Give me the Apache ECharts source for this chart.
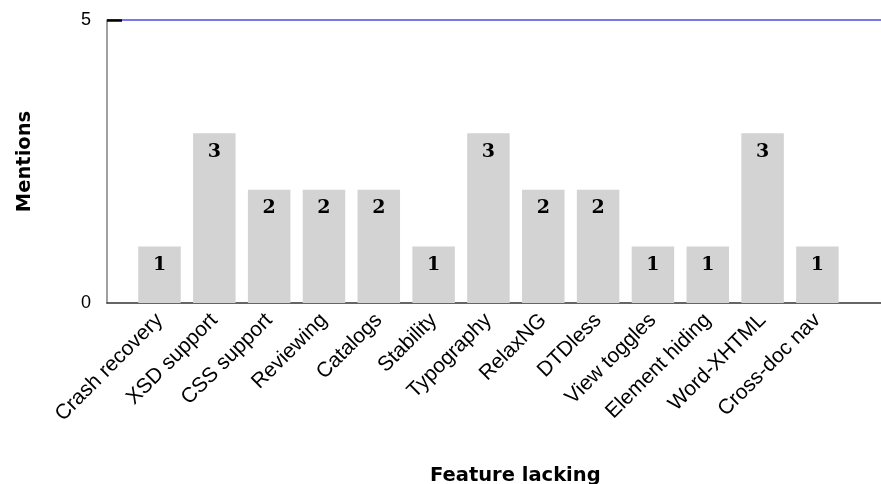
<!DOCTYPE html>
<html><head><meta charset="utf-8">
<script src="https://cdn.jsdelivr.net/npm/echarts@6/dist/echarts.min.js"></script>
<style>html,body{margin:0;padding:0;background:#fff}#c{width:881px;height:484px}</style>
</head><body><div id="c"></div>
<script>
const categories = ["Crash recovery","XSD support","CSS support","Reviewing","Catalogs","Stability","Typography","RelaxNG","DTDless","View toggles","Element hiding","Word-XHTML","Cross-doc nav"];
const mentions = [1,3,2,2,2,1,3,2,2,1,1,3,1];
const yTicks = [0,5];

const positions = categories.map((c,i)=>i+1);
const barData = positions.map((p,i)=>[p, mentions[i]]);

const chart = echarts.init(document.getElementById('c'), null, {renderer:'canvas'});
chart.setOption({
  animation:false,
  backgroundColor:'#fff',
  title:{
    text:'Feature lacking',
    left:425, top:461,
    textStyle:{fontFamily:'DejaVu Sans', fontWeight:'bold', fontSize:19.5, color:'#000'}
  },
  grid:{left:107, right:0, top:20, bottom:181, containLabel:false},
  xAxis:{
    type:'value', min:0.0425, max:14.16,
    axisLine:{show:true, onZero:false, lineStyle:{color:'#333', width:1.5}},
    axisTick:{show:false},
    splitLine:{show:false},
    axisLabel:{
      customValues: positions,
      rotate:45, margin:14,
      fontFamily:'Liberation Sans', fontSize:21, color:'#000',
      formatter:(v)=>categories[Math.round(v)-1] || ''
    }
  },
  yAxis:{
    type:'value', min:yTicks[0], max:yTicks[1], interval:5,
    name:'Mentions', nameLocation:'middle', nameGap:72, nameRotate:90,
    nameTextStyle:{fontFamily:'DejaVu Sans', fontWeight:'bold', fontSize:19.5, color:'#000'},
    axisLine:{show:true, lineStyle:{color:'#808080', width:1.5}},
    axisTick:{show:true, inside:true, length:15, customValues:[yTicks[1]], lineStyle:{color:'#000', width:2.5}},
    axisLabel:{margin:16, fontFamily:'Liberation Sans', fontSize:18, color:'#000'},
    splitLine:{show:true, lineStyle:{color:'#4b4be6', width:1.5}}
  },
  series:[{
    type:'bar',
    data:barData,
    barWidth:42.5,
    itemStyle:{color:'#d3d3d3'},
    label:{show:true, position:'insideTop', distance:9,
      fontFamily:'DejaVu Serif', fontWeight:'bold', fontSize:19, color:'#000'}
  }]
});
</script></body></html>
